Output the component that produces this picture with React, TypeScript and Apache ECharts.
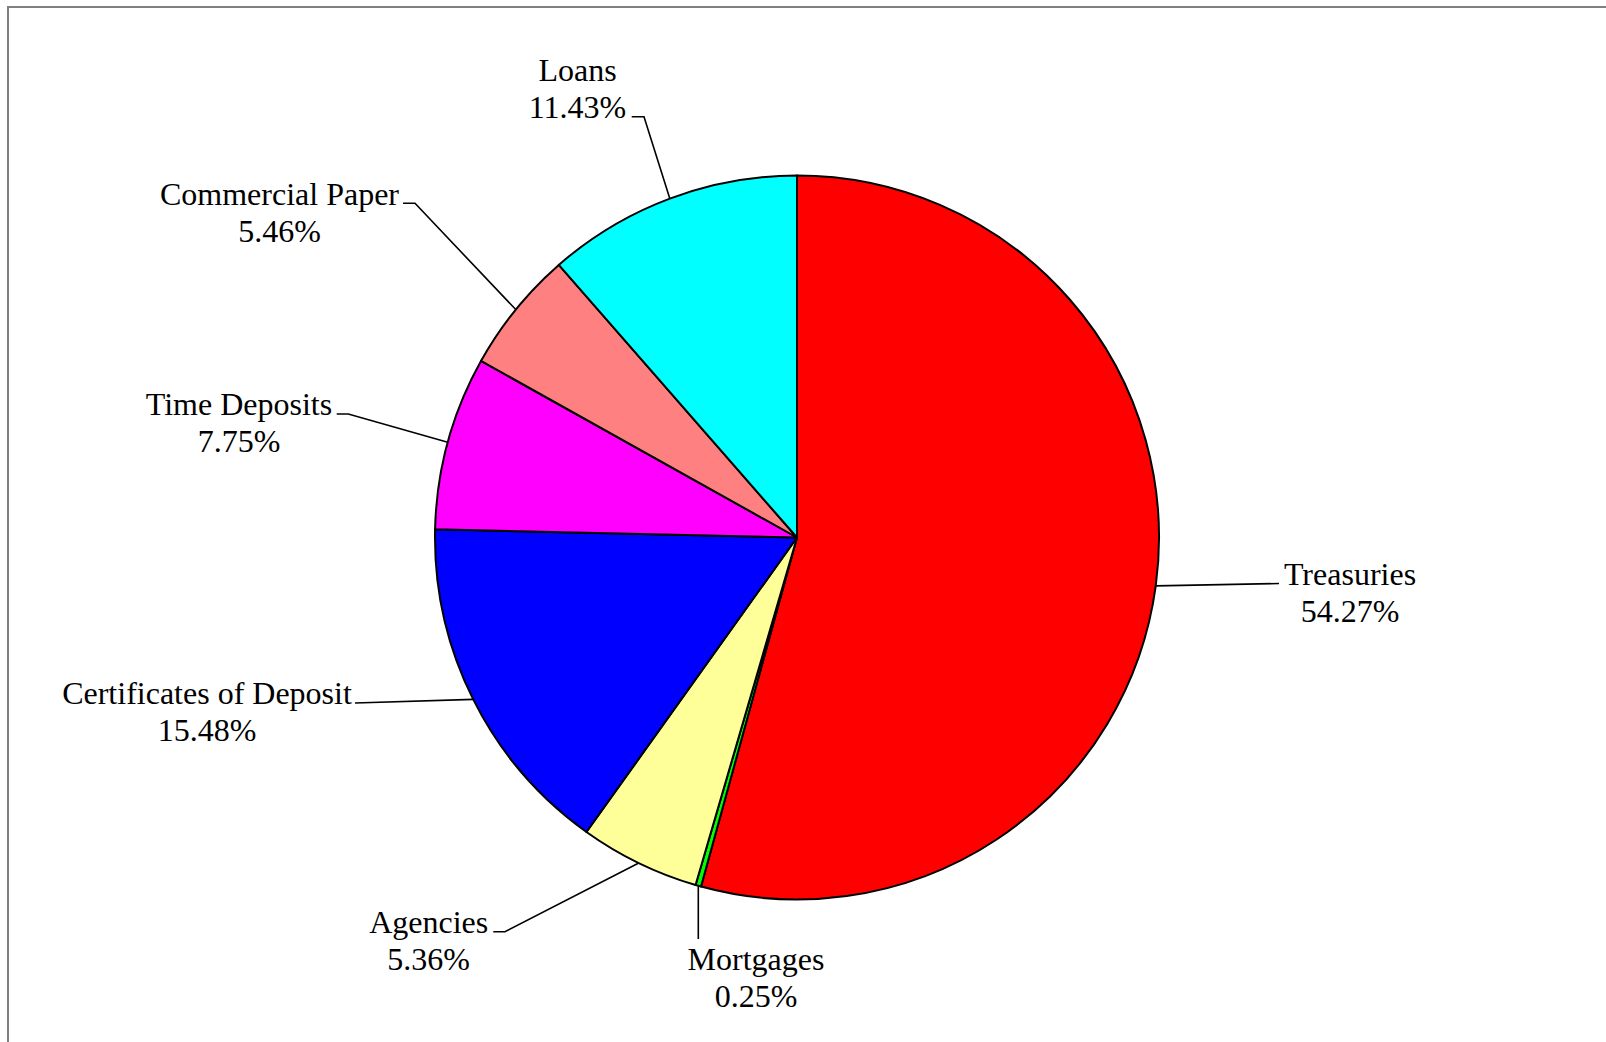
import React, { useEffect, useRef } from "react";
import * as echarts from "echarts";

const categories = [
  "Treasuries",
  "Mortgages",
  "Agencies",
  "Certificates of Deposit",
  "Time Deposits",
  "Commercial Paper",
  "Loans",
];
const shares = [54.27, 0.25, 5.36, 15.48, 7.75, 5.46, 11.43];
const sliceColors = ["#FF0000", "#00FF00", "#FFFF99", "#0000FF", "#FF00FF", "#FF8080", "#00FFFF"];

// label block centres and leader-line bend/end points (layout only)
const labelCentres: [number, number][] = [
  [1350, 592.5],
  [756, 977.5],
  [428.7, 940],
  [207, 711],
  [239, 422.5],
  [279.5, 212],
  [577.5, 88.3],
];
const leaderPoints: [number, number][][] = [
  [[1279, 583.5]],
  [[698.3, 939]],
  [[505, 931.7], [493.3, 931.7]],
  [[355, 703]],
  [[348.3, 414], [336.7, 414]],
  [[415, 203.3], [403, 203.3]],
  [[644, 116.7], [631.7, 116.7]],
];

const FONT = "'Liberation Serif', 'Times New Roman', Times, serif";

export default function App() {
  const ref = useRef<HTMLDivElement>(null);
  useEffect(() => {
    if (!ref.current) return;
    const chart = echarts.init(ref.current, undefined, { renderer: "svg" });
    chart.setOption({
      animation: false,
      backgroundColor: "#ffffff",
      graphic: [
        {
          type: "rect",
          shape: { x: 8, y: 7, width: 1700, height: 1200 },
          style: { fill: "none", stroke: "#808080", lineWidth: 2 },
          silent: true,
          z: 0,
        },
      ],
      series: [
        {
          type: "pie",
          center: [797, 537.5],
          radius: 362,
          startAngle: 90,
          clockwise: true,
          avoidLabelOverlap: false,
          data: categories.map((name, i) => ({
            name,
            value: shares[i],
            itemStyle: { color: sliceColors[i] },
          })),
          itemStyle: { borderColor: "#000000", borderWidth: 2 },
          label: {
            show: true,
            position: "outside",
            formatter: (p: any) => `${p.name}\n${Number(p.value).toFixed(2)}%`,
            fontFamily: FONT,
            fontSize: 32,
            lineHeight: 37,
            color: "#000000",
            align: "center",
          },
          labelLine: {
            show: true,
            length: 30,
            length2: 20,
            lineStyle: { color: "#000000", width: 1.6 },
          },
          emphasis: { disabled: true },
          labelLayout: (params: any) => {
            const i = params.dataIndex;
            const start = params.labelLinePoints ? params.labelLinePoints[0] : null;
            const pts = start ? [start, ...leaderPoints[i]] : undefined;
            return {
              x: labelCentres[i][0],
              y: labelCentres[i][1],
              align: "center",
              verticalAlign: "middle",
              labelLinePoints: pts,
            };
          },
        },
      ],
    });
    return () => chart.dispose();
  }, []);
  return (
    <div
      ref={ref}
      style={{ position: "absolute", left: 0, top: 0, width: 1606, height: 1042 }}
    />
  );
}
